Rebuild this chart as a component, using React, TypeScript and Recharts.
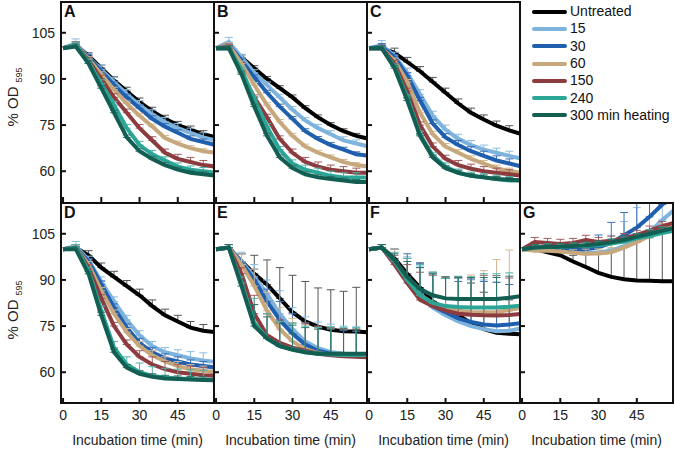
import React from "react";
import { LineChart, Line, XAxis, YAxis, ErrorBar } from "recharts";

const TIMES = [0, 5, 10, 15, 20, 25, 30, 35, 40, 45, 50, 55, 60];
const X_TICKS = [0, 15, 30, 45];
const Y_TICKS = [60, 75, 90, 105];

const SERIES = [
  { key: "untreated", name: "Untreated", color: "#000000", err: "#555555" },
  { key: "m15", name: "15", color: "#7db3dc", err: "#8cbde2" },
  { key: "m30", name: "30", color: "#1f5fae", err: "#3d70b8" },
  { key: "m60", name: "60", color: "#c7a87c", err: "#d3b793" },
  { key: "m150", name: "150", color: "#8c3b3f", err: "#a35c60" },
  { key: "m240", name: "240", color: "#2ba596", err: "#4db5a8" },
  { key: "m300", name: "300 min heating", color: "#135e52", err: "#2f7268" },
];

// values per panel, series order as SERIES
const A_VALUES = [
  [100, 101, 97.5, 93.5, 89.5, 86, 82.5, 79.5, 77, 75, 73.5, 72, 71],
  [100, 101.5, 97, 93, 89, 85, 81.5, 78.5, 76, 74, 72.5, 71, 70],
  [100, 101, 97, 92.5, 88, 84, 80.5, 77, 74.5, 72.5, 70.5, 69.5, 68.5],
  [100, 101, 96.5, 91.5, 86.5, 82, 78, 74.5, 70.8, 69, 67.5, 66.5, 66],
  [100, 101, 96, 90, 84, 79, 74, 70, 66, 64, 63, 62, 61.5],
  [100, 101, 95.5, 88.5, 81.5, 74, 68.5, 65.5, 63.5, 61.5, 60.5, 60, 59.5],
  [100, 100.5, 95, 87, 79, 71, 66.5, 64, 62, 60.5, 59.5, 59, 58.5],
];
const B_VALUES = [
  [100, 100, 97, 93.5, 90, 87, 84, 80.5, 77.5, 75, 73, 71.5, 70.5],
  [100, 102, 97, 92, 88, 84, 80, 76.5, 74, 72, 70, 69, 68],
  [100, 101, 96, 90.5, 85.5, 81, 77, 73, 70.5, 68.5, 67, 65.5, 65],
  [100, 101, 95, 88, 81.5, 76, 71.5, 68, 66, 64.5, 63, 62, 61.5],
  [100, 100.5, 92, 84, 77.5, 70.5, 66, 63, 61.5, 60.5, 60, 59.5, 59.5],
  [100, 100, 93, 83.5, 74.5, 67, 62.5, 60.5, 59.5, 58.5, 58, 58, 58],
  [100, 100, 91.5, 81, 71.5, 64.5, 61, 59, 58, 57.5, 57, 56.5, 56.5],
];
const C_VALUES = [
  [100, 100, 98.5, 95.5, 92.5, 89, 85.5, 82, 79, 76.8, 74.8, 73.3, 72],
  [100, 101, 97.5, 92, 85, 78, 73.5, 70.5, 68.5, 67, 66, 65, 64],
  [100, 100.5, 97, 91, 83, 75.5, 71, 68.5, 66.5, 65, 63.5, 62.5, 61.5],
  [100, 100, 96, 89, 79, 72, 68, 66, 64, 62.5, 61, 60, 59.5],
  [100, 100, 95, 86, 75, 68, 64, 62, 60.8, 60, 59.5, 59, 58.5],
  [100, 100, 94, 84, 72, 65, 61.5, 59.5, 58.5, 58, 57.5, 57, 57],
  [100, 100, 93.5, 83, 71.5, 64.5, 61, 59.5, 58.5, 58, 57.5, 57.2, 57],
];
const D_VALUES = [
  [100, 100.5, 98, 94, 91, 88, 85, 81.5, 78.5, 76.5, 74.5, 73.5, 73],
  [100, 101, 96.5, 89.5, 83, 77, 72, 68.5, 66.5, 65.5, 64.5, 63.8, 63.3],
  [100, 100.5, 96, 88.5, 81, 74.5, 69.5, 66.5, 64.5, 63.5, 62.5, 62, 61.5],
  [100, 100.5, 95, 86.5, 79, 73, 68.5, 65.5, 63.5, 62, 61, 60.5, 60],
  [100, 100.5, 94, 84, 75, 69, 65, 62.5, 61, 60, 59.5, 59, 58.8],
  [100, 100.5, 93, 80, 68, 62.5, 60, 58.8, 58.3, 58, 57.8, 57.6, 57.5],
  [100, 100, 92, 78.5, 66.5, 61.5, 59.5, 58.5, 58, 57.8, 57.6, 57.5, 57.4],
];
const E_VALUES = [
  [100, 100.5, 96, 92, 88.5, 84, 79.5, 76.5, 74.8, 73.8, 73.3, 73.2, 73],
  [100, 100.5, 96, 91, 85.5, 79, 74, 70, 67.8, 66.6, 66, 65.7, 65.5],
  [100, 100.5, 95.5, 90, 83, 77, 72.5, 69, 67, 66, 65.5, 65.2, 65],
  [100, 100.5, 95, 88, 80, 74, 70, 67.5, 66.2, 65.8, 65.5, 65.3, 65.2],
  [100, 100.5, 92, 79, 72, 69.5, 68, 67, 66, 65.5, 65.2, 65, 64.8],
  [100, 100.5, 89, 76, 71, 68.5, 67.5, 66.5, 66, 65.8, 65.6, 65.6, 65.6],
  [100, 100.5, 88, 75, 71, 68.5, 67.3, 66.5, 66, 66, 66, 66, 66],
];
const F_VALUES = [
  [100, 100.5, 97, 92, 87.5, 83, 80.5, 78.5, 76, 74, 72.8, 72.5, 72.3],
  [100, 100.5, 96, 90.5, 85.5, 81, 78.5, 76.5, 75, 74, 73.3, 73.5, 74.3],
  [100, 100.5, 96, 90.5, 85.5, 81.5, 79.5, 77.5, 76.3, 75.5, 75.2, 75.5, 76],
  [100, 100.5, 96, 90, 85, 82.5, 80.8, 80, 79.6, 79.5, 79.6, 80.2, 81],
  [100, 100.5, 95, 89, 83.5, 81.5, 80, 79, 78.7, 78.5, 78.4, 78.6, 79],
  [100, 100.5, 96, 90, 85, 82.5, 81.5, 81.2, 81, 81, 81, 81.3, 81.7],
  [100, 100.5, 96.5, 91, 87, 85, 84, 83.8, 83.8, 83.8, 83.8, 84.2, 84.8],
];
const G_VALUES = [
  [100, 100, 99, 98, 96, 94.2, 92.3, 91, 90.2, 89.8, 89.7, 89.6, 89.6],
  [100, 100, 100.3, 99.8, 99.2, 98.7, 99, 99.5, 101, 103.5, 105.5, 109.5, 113],
  [100, 100.5, 100.5, 100, 99.8, 100, 100.6, 102, 104.5, 107, 110.5, 114.5, 118.5],
  [100, 99.5, 99.5, 99.2, 98.8, 98.5, 98.6, 99, 100.5, 102.3, 104.3, 106.3, 108],
  [100, 102.3, 102, 101.7, 102, 103, 102.3, 102.7, 103.6, 104.6, 106, 107.5, 108.7],
  [100, 100.5, 100.8, 100.7, 101, 101.1, 101.3, 101.8, 102.5, 103.5, 104.3, 105.2, 106],
  [100, 100.5, 100.7, 100.8, 101, 101.3, 101.7, 102.2, 103, 104, 105, 106, 107],
];

// upward error (SD), 0 = no bar
const A_ERR = [
  [0, 1, 1, 1, 1.2, 1.3, 1.3, 1.3, 1.2, 1.2, 1.2, 1.2, 0],
  [0, 1.5, 1.2, 1.5, 1.5, 1.5, 1.5, 1.5, 1.5, 1.5, 1.5, 1.5, 0],
  [0, 1, 1, 1, 1, 1, 1, 1, 1, 1, 1, 1, 0],
  [0, 0.8, 0.8, 0.8, 0.8, 0.8, 0.8, 0.8, 0.8, 0.8, 0.8, 0.8, 0],
  [0, 1, 1, 1.2, 1.2, 1.2, 1.2, 1.2, 1.2, 1.5, 1.5, 1.5, 0],
  [0, 1, 1, 1.2, 1.2, 1.2, 1.2, 1.2, 1.2, 1.2, 1.2, 1.2, 0],
  [0, 0.8, 0.8, 0.8, 0.8, 0.8, 0.8, 0.8, 0.8, 0.8, 0.8, 0.8, 0],
];
const B_ERR = [
  [0, 0.8, 0.8, 0.8, 0.8, 0.8, 0.8, 0.8, 0.8, 0.8, 0.8, 0.8, 0],
  [0, 1.5, 1, 1, 1, 1, 1, 1, 1.2, 1.2, 1.2, 1.2, 0],
  [0, 0.8, 0.8, 0.8, 0.8, 0.8, 0.8, 0.8, 0.8, 0.8, 0.8, 0.8, 0],
  [0, 0.8, 0.8, 0.8, 0.8, 0.8, 0.8, 0.8, 0.8, 0.8, 0.8, 0.8, 0],
  [0, 0.8, 0.8, 0.8, 1, 1, 1.2, 1.5, 1.5, 1.5, 1.5, 1.5, 0],
  [0, 0.8, 0.8, 0.8, 1, 1, 1.2, 1.5, 1.5, 1.5, 1.5, 1.5, 0],
  [0, 0.8, 0.8, 0.8, 0.8, 0.8, 0.8, 0.8, 0.8, 0.8, 0.8, 0.8, 0],
];
const C_ERR = [
  [0, 1, 1.5, 1.5, 1.5, 1.5, 1.5, 1.5, 1.5, 1.5, 1.5, 1.5, 0],
  [0, 1.5, 1.2, 1.5, 1.5, 1.5, 1.5, 1.5, 1.5, 1.5, 1.5, 1.5, 0],
  [0, 1, 1, 1, 1, 1.2, 1.2, 1.5, 1.5, 1.5, 1.5, 1.5, 0],
  [0, 0.8, 0.8, 0.8, 0.8, 1, 1, 1, 1, 1, 1, 1, 0],
  [0, 1, 1, 1, 1, 1.2, 1.2, 1.5, 1.5, 1.5, 1.5, 1.5, 0],
  [0, 0.8, 0.8, 0.8, 1, 1, 1.2, 1.2, 1.2, 1.2, 1.2, 1.2, 0],
  [0, 0.8, 0.8, 0.8, 0.8, 0.8, 0.8, 0.8, 0.8, 0.8, 0.8, 0.8, 0],
];
const D_ERR = [
  [0, 1, 1.5, 1.5, 1.8, 1.8, 2, 2, 2, 2, 2, 2, 0],
  [0, 1.5, 1.2, 1.5, 1.5, 1.5, 1.5, 1.5, 1.5, 1.8, 2.2, 2.5, 0],
  [0, 1, 1, 1.2, 1.2, 1.2, 1.5, 1.5, 1.5, 1.5, 1.5, 1.5, 0],
  [0, 0.8, 1, 1, 1.2, 1.2, 1.5, 1.5, 1.5, 1.5, 1.5, 1.5, 0],
  [0, 1, 1, 1.2, 1.2, 1.5, 2, 2.5, 2.5, 2.5, 2.5, 2.5, 0],
  [0, 1, 1, 1.5, 2, 2.5, 3, 3, 3, 3, 3, 3, 0],
  [0, 0.8, 0.8, 1, 1, 1, 1, 1, 1, 1, 1, 1, 0],
];
const E_ERR = [
  [0, 1, 2.5, 6, 8, 10, 12, 13, 12.6, 13, 13, 14.4, 0],
  [0, 1, 3, 4, 4.5, 7.5, 7, 8, 8.5, 9, 9, 9, 0],
  [0, 1, 3, 3.5, 4, 6, 6.5, 7, 7.5, 8, 8, 8, 0],
  [0, 1, 3.5, 5.5, 6, 7, 7.5, 8, 8.5, 8.5, 8.5, 8.5, 0],
  [0, 1, 2, 6, 7, 7.5, 8, 9, 9, 9, 9, 9, 0],
  [0, 1, 2, 8, 8, 8, 8.5, 8.5, 8.5, 9, 9, 9, 0],
  [0, 1, 2, 7, 7, 7.5, 8, 8, 8, 8, 8, 8, 0],
];
const F_ERR = [
  [0, 1, 3, 5, 8, 9, 10, 12, 13, 12, 11, 11, 0],
  [0, 1, 4, 7, 9, 11, 12, 14, 15, 16, 16, 15, 0],
  [0, 1, 4, 8, 10, 11, 11, 12, 14, 14, 14, 13, 0],
  [0, 1, 4, 7, 9, 10, 10, 11, 12, 13.5, 17, 19.5, 0],
  [0, 1, 3, 6, 9, 10, 11, 12, 12, 13, 13, 12, 0],
  [0, 1, 3, 7, 10, 10, 9, 10, 10, 11, 11, 11, 0],
  [0, 1, 2, 5, 7, 7, 7, 7, 7, 7, 7, 7, 0],
];
const G_ERR = [
  [0, 0, 0, 0.8, 2, 4, 6, 9, 11, 12.5, 14, 15.5, 0],
  [0, 1, 1, 1, 1.5, 2, 3, 5, 8, 10, 12, 14, 0],
  [0, 1, 1, 1, 1.5, 2, 4, 6.7, 7.4, 10, 10, 10, 0],
  [0, 1, 1, 1, 1, 1.5, 1.5, 1.5, 2, 2, 2, 2, 0],
  [0, 1.5, 1.5, 1.5, 1.5, 1.5, 1.5, 1.5, 1.5, 1.5, 1.5, 1.5, 0],
  [0, 1, 1, 1, 1, 1, 1, 1.5, 1.5, 1.5, 2, 2, 0],
  [0, 1, 1, 1, 1, 1, 1, 1, 1, 1, 1, 1, 0],
];

const PLOT_W = 153;
const PLOT_H = 200;
const INK = "#111";

function XTick(props: any) {
  const { x, y, payload, showLabel } = props;
  return (
    <g>
      <line x1={x} x2={x} y1={y} y2={y - 5} stroke={INK} strokeWidth={2} />
      {showLabel && (
        <text x={x} y={y + 17} textAnchor="middle" fontSize={14} fill="#222">
          {payload.value}
        </text>
      )}
    </g>
  );
}

function YTick(props: any) {
  const { x, y, payload, showLabel } = props;
  return (
    <g>
      <line x1={x} x2={x + 5} y1={y} y2={y} stroke={INK} strokeWidth={2} />
      {showLabel && (
        <text x={x - 6} y={y + 5} textAnchor="end" fontSize={14} fill="#222">
          {payload.value}
        </text>
      )}
    </g>
  );
}

function Panel({ letter, values, errors, left, top, bottom, yLabels }: any) {
  const data = TIMES.map((t, i) => {
    const row: Record<string, any> = { t };
    SERIES.forEach((s, k) => {
      row[s.key] = values[k][i];
      row[s.key + "Err"] = errors[k][i] > 0 ? [0, errors[k][i]] : null;
    });
    return row;
  });
  // a little room left of each frame so the "0" tick label is not cut
  const axisW = yLabels ? 61 : 10;
  const axisH = bottom ? 47 : 1;

  return (
    <div style={{ position: "absolute", left: left - axisW, top }}>
      <LineChart
        width={PLOT_W + axisW}
        height={PLOT_H + axisH}
        data={data}
        margin={{ top: 0, right: 0, bottom: 0, left: 0 }}
      >
        <XAxis
          dataKey="t"
          type="number"
          domain={[-0.8, 59.2]}
          allowDataOverflow
          ticks={X_TICKS}
          interval={0}
          height={axisH}
          axisLine={false}
          tickLine={false}
          tickSize={0}
          tickMargin={0}
          tick={(p: any) => <XTick {...p} showLabel={bottom} />}
          label={
            bottom
              ? { value: "Incubation time (min)", position: "insideBottom", offset: 5, fontSize: 14, fill: "#222" }
              : undefined
          }
        />
        <YAxis
          type="number"
          domain={[50, 115]}
          allowDataOverflow
          ticks={Y_TICKS}
          interval={0}
          width={axisW}
          axisLine={false}
          tickLine={false}
          tickSize={0}
          tickMargin={0}
          tick={(p: any) => <YTick {...p} showLabel={yLabels} />}
        />
        {SERIES.map((s) => (
          <Line
            key={s.key}
            dataKey={s.key}
            type="linear"
            stroke={s.color}
            strokeWidth={4}
            dot={false}
            activeDot={false}
            isAnimationActive={false}
          >
            <ErrorBar dataKey={s.key + "Err"} width={4} stroke={s.err} strokeWidth={1} direction="y" />
          </Line>
        ))}
      </LineChart>
      <div
        style={{
          position: "absolute",
          left: axisW + 3,
          top: 0,
          fontSize: 16,
          fontWeight: 700,
          lineHeight: "20px",
          color: "#111",
        }}
      >
        {letter}
      </div>
    </div>
  );
}

const COLS = [61, 214, 367, 520];
const ROW1 = 2;
const ROW2 = 203;

function Rule({ x, y, w, h }: any) {
  return <div style={{ position: "absolute", left: x, top: y, width: w, height: h, background: INK }} />;
}

export default function App() {
  return (
    <div
      style={{
        position: "absolute",
        left: 0,
        top: 0,
        width: 675,
        height: 450,
        background: "#fff",
        fontFamily: "'Liberation Sans', Arial, sans-serif",
        overflow: "hidden",
      }}
    >
      <Panel letter="A" values={A_VALUES} errors={A_ERR} left={COLS[0]} top={ROW1} yLabels />
      <Panel letter="B" values={B_VALUES} errors={B_ERR} left={COLS[1]} top={ROW1} />
      <Panel letter="C" values={C_VALUES} errors={C_ERR} left={COLS[2]} top={ROW1} />
      <Panel letter="D" values={D_VALUES} errors={D_ERR} left={COLS[0]} top={ROW2} bottom yLabels />
      <Panel letter="E" values={E_VALUES} errors={E_ERR} left={COLS[1]} top={ROW2} bottom />
      <Panel letter="F" values={F_VALUES} errors={F_ERR} left={COLS[2]} top={ROW2} bottom />
      <Panel letter="G" values={G_VALUES} errors={G_ERR} left={COLS[3]} top={ROW2} bottom />

      {/* panel frames */}
      <Rule x={60} y={1} w={461} h={2} />
      <Rule x={60} y={202} w={614} h={2} />
      <Rule x={60} y={402} w={614} h={2} />
      <Rule x={60} y={1} w={2} h={403} />
      <Rule x={213} y={1} w={2} h={403} />
      <Rule x={366} y={1} w={2} h={403} />
      <Rule x={519} y={1} w={2} h={403} />
      <Rule x={672} y={202} w={2} h={202} />

      <svg style={{ position: "absolute", left: 0, top: 0 }} width={40} height={450}>
        {[97, 310].map((cy) => (
          <text key={cy} transform={`translate(18,${cy}) rotate(-90)`} textAnchor="middle" fontSize={15} fill="#222">
            % OD
            <tspan fontSize={9} dx={4} dy={4}>
              595
            </tspan>
          </text>
        ))}
      </svg>

      <div style={{ position: "absolute", left: 532, top: 3 }}>
        {SERIES.map((s) => (
          <div key={s.key} style={{ display: "flex", alignItems: "center", height: 17.3, whiteSpace: "nowrap" }}>
            <span style={{ display: "inline-block", width: 35, height: 4, background: s.color, borderRadius: 2 }} />
            <span style={{ marginLeft: 3, fontSize: 14, color: "#111", lineHeight: "17px" }}>{s.name}</span>
          </div>
        ))}
      </div>
    </div>
  );
}
